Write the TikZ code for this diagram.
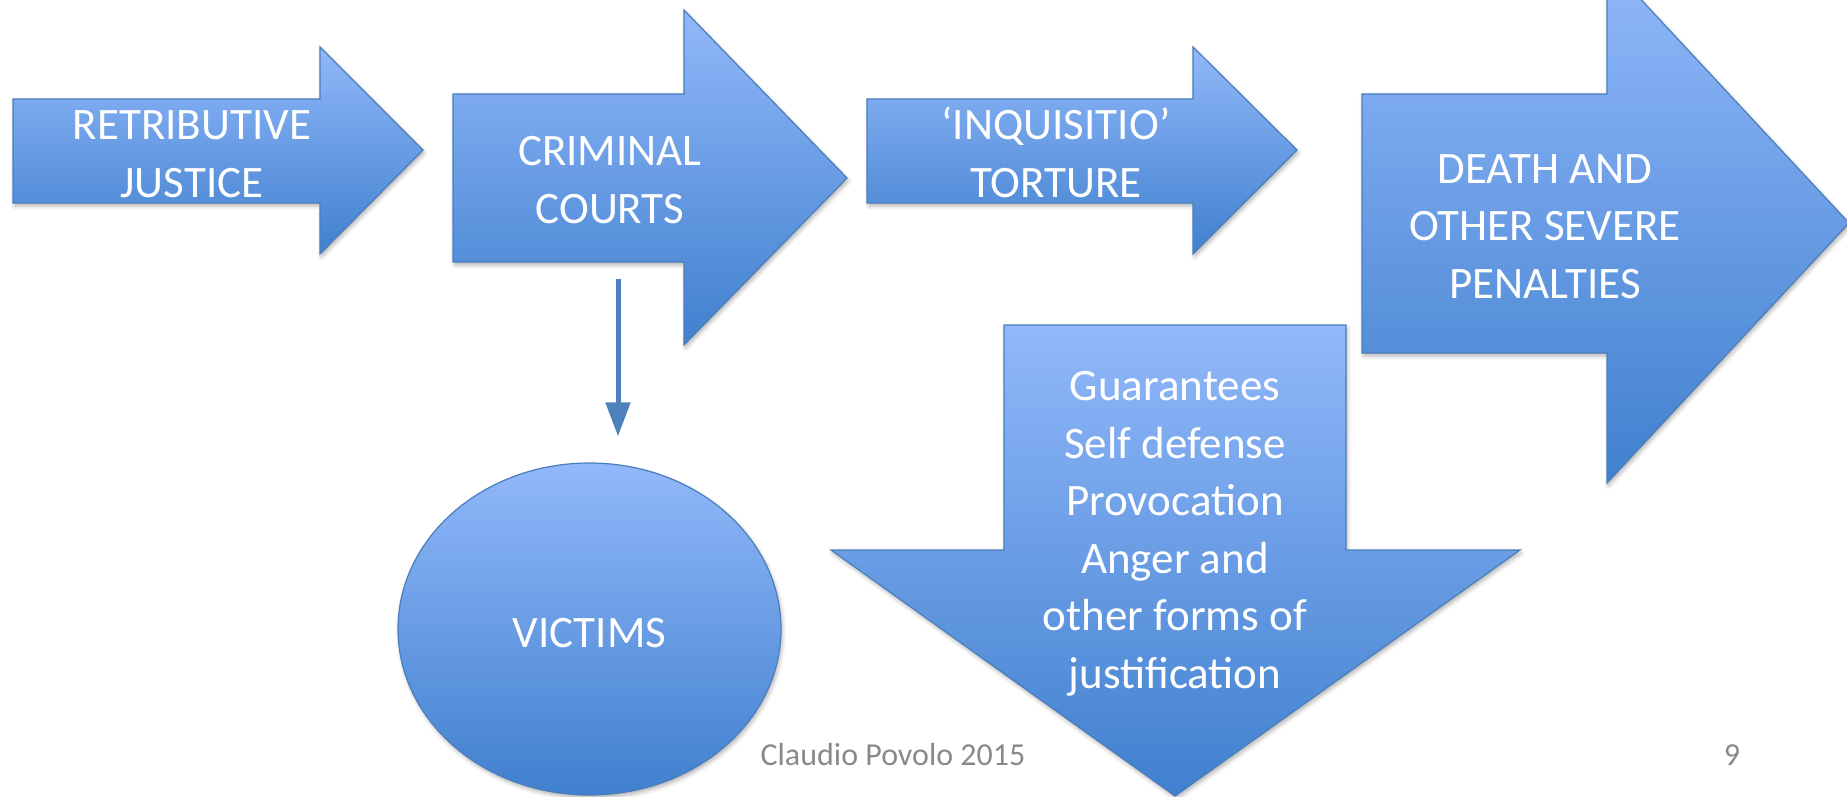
\documentclass[tikz,border=0pt]{standalone}
\usepackage{fontspec}
\setmainfont{Carlito}
\usetikzlibrary{arrows.meta,shapes.geometric,shadows.blur}
\definecolor{shapetop}{RGB}{145,184,250}
\definecolor{shapebot}{RGB}{64,128,206}
\definecolor{shapeline}{RGB}{74,126,187}
\definecolor{linkblue}{RGB}{79,129,189}
\definecolor{footgray}{RGB}{137,137,137}
\tikzset{
  bluefill/.style={draw=shapeline, line width=1.2pt, top color=shapetop, bottom color=shapebot,
    blur shadow={shadow xshift=1.5pt, shadow yshift=-3pt, shadow opacity=30, shadow blur radius=4pt}},
  % multi-line labels are placed by the baseline of their last line
  boxtext/.style={text=white, font=\fontsize{45}{57.5}\selectfont, align=center, inner sep=0pt, anchor=base},
  foottext/.style={text=footgray, font=\fontsize{32}{38}\selectfont, inner sep=0pt, anchor=base},
  link/.style={draw=linkblue, line width=5pt, -{Triangle[length=34pt,width=24pt]}},
}
\begin{document}
\begin{tikzpicture}[x=1pt,y=-1pt]
\useasboundingbox (0,0) rectangle (1847,797);
\begin{scope}
\clip (0,0) rectangle (1847,797);
% block arrows along the top row
\path[bluefill] (13,99) -- (320,99) -- (320,47) -- (423,150) -- (320,254) -- (320,203) -- (13,203) -- cycle;
\path[bluefill] (453,94) -- (684,94) -- (684,10) -- (847,178) -- (684,345) -- (684,262) -- (453,262) -- cycle;
\path[bluefill] (867,99) -- (1193,99) -- (1193,47) -- (1297,150) -- (1193,254) -- (1193,203) -- (867,203) -- cycle;
\path[bluefill] (1362,94) -- (1607,94) -- (1607,-37) -- (1849,223) -- (1607,483) -- (1607,353) -- (1362,353) -- cycle;
% downward block arrow
\path[bluefill] (1004,325) -- (1346,325) -- (1346,550) -- (1520,550) -- (1175,796) -- (831,550) -- (1004,550) -- cycle;
% victims ellipse
\node[bluefill, ellipse, minimum width=383pt, minimum height=332pt, inner sep=0pt,
      text=white, font=\fontsize{45}{57.5}\selectfont, text height=36pt, text depth=0pt]
      (victims) at (589.5,629) {VICTIMS};
\end{scope}

% labels of the block arrows
\node[boxtext] (retributive) at (192,197) {RETRIBUTIVE\\JUSTICE};
\node[boxtext] (criminal) at (610,223) {CRIMINAL\\COURTS};
\node[boxtext] (inquisitio) at (1056,197) {‘INQUISITIO’\\TORTURE};
\node[boxtext] (death) at (1545,298) {DEATH AND\\OTHER SEVERE\\PENALTIES};
\node[boxtext] (guarantees) at (1175,688) {Guarantees\\Self defense\\Provocation\\Anger and\\other forms of\\justification};

% connector from the courts to the victims
\coordinate (courtsfoot) at (618,279);
\draw[link, shorten >=26pt] (courtsfoot) -- (courtsfoot |- victims.north);

% footer
\node[foottext] (author) at (893,765) {Claudio Povolo 2015};
\node[foottext] (page) at (1732,765) {9};
\end{tikzpicture}
\end{document}
